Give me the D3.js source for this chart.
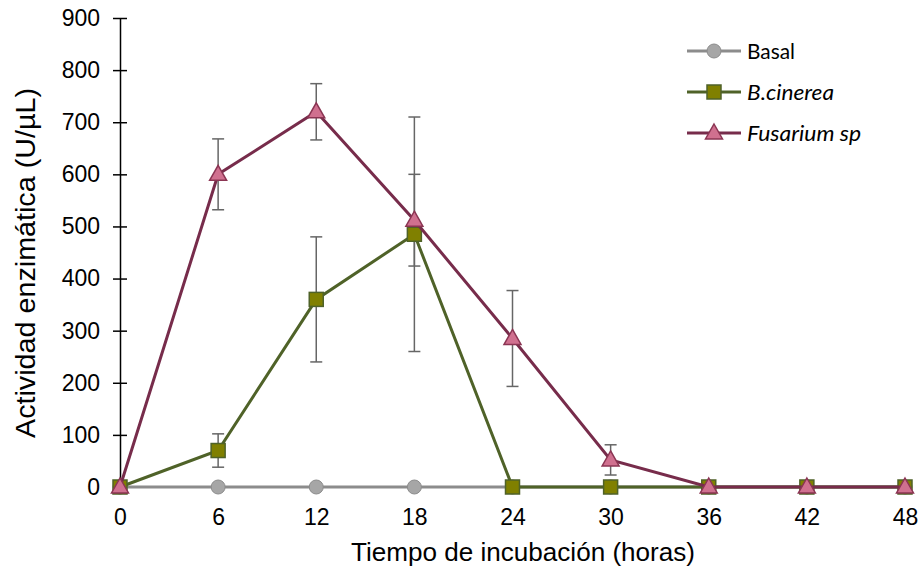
<!DOCTYPE html>
<html>
<head>
<meta charset="utf-8">
<script src="https://cdn.jsdelivr.net/npm/d3@7"></script>
<style>
  body { margin: 0; background: #fff; }
  text { font-family: "Liberation Sans", Arial, sans-serif; fill: #000; }
  .legend text { font-family: Lato, "Open Sans", sans-serif; }
</style>
</head>
<body>
<svg width="922" height="568"></svg>
<script>
// data
var hours = [0, 6, 12, 18, 24, 30, 36, 42, 48];
var basal = [0, 0, 0, 0, 0, 0, 0, 0, 0];
var cinerea = [0, 70, 360, 485, 0, 0, 0, 0, 0];
var cinereaErr = [0, 32, 120, 225, 0, 0, 0, 0, 0];
var fusarium = [0, 600, 720, 512, 285, 52, 0, 0, 0];
var fusariumErr = [0, 68, 54, 88, 92, 29, 0, 0, 0];
var yTicks = [0, 100, 200, 300, 400, 500, 600, 700, 800, 900];

var svg = d3.select("svg");

var x = d3.scaleLinear().domain([0, 48]).range([120, 905]);
var y = d3.scaleLinear().domain([0, 900]).range([487, 18]);

// y axis, ticks cross the line
var yAxis = svg.append("g").attr("transform", "translate(120,0)")
    .call(d3.axisLeft(y).tickValues(yTicks).tickSize(6).tickPadding(14).tickSizeOuter(0));
yAxis.attr("font-size", null).attr("font-family", null);
yAxis.select(".domain").attr("stroke", "#000").attr("stroke-width", 1.5);
yAxis.selectAll(".tick line").attr("x2", 7).attr("x1", -7).attr("stroke-width", 1.5);
yAxis.selectAll(".tick text").style("font-size", "23px").attr("fill", "#000");

// x tick labels only, no axis line
var xAxis = svg.append("g").attr("transform", "translate(0,487)")
    .call(d3.axisBottom(x).tickValues(hours).tickSize(0).tickPadding(0));
xAxis.attr("font-size", null).attr("font-family", null);
xAxis.select(".domain").remove();
xAxis.selectAll(".tick text").attr("dy", null).attr("y", 38)
    .style("font-size", "23px").attr("fill", "#000");

svg.append("text").attr("x", 351).attr("y", 561)
    .attr("textLength", 344).attr("lengthAdjust", "spacingAndGlyphs")
    .style("font-size", "26px").text("Tiempo de incubación (horas)");
svg.append("text").attr("transform", "translate(35,438) rotate(-90)")
    .attr("textLength", 350).attr("lengthAdjust", "spacingAndGlyphs")
    .style("font-size", "27px").text("Actividad enzimática (U/µL)");

var line = d3.line().x(function(d, i) { return x(hours[i]); }).y(function(d) { return y(d); });

var series = [
  { name: "Basal", values: basal, err: null, line: "#8c8c8c", fill: "#a6a6a6", stroke: "#8c8c8c", shape: "circle", italic: false, len: 48 },
  { name: "B.cinerea", values: cinerea, err: cinereaErr, line: "#4f6228", fill: "#808000", stroke: "#4f6228", shape: "square", italic: true, len: 87 },
  { name: "Fusarium sp", values: fusarium, err: fusariumErr, line: "#772c4b", fill: "#d0708f", stroke: "#8b3553", shape: "triangle", italic: true, len: 114 }
];

function drawMarker(g, s, cx, cy) {
  if (s.shape === "circle") {
    g.append("circle").attr("cx", cx).attr("cy", cy).attr("r", 7)
      .attr("fill", s.fill).attr("stroke", s.stroke).attr("stroke-width", 1);
  } else if (s.shape === "square") {
    g.append("rect").attr("x", cx - 7).attr("y", cy - 7).attr("width", 14).attr("height", 14)
      .attr("fill", s.fill).attr("stroke", s.stroke).attr("stroke-width", 1.5);
  } else {
    g.append("path").attr("d", "M" + cx + "," + (cy - 9) + "L" + (cx + 8.5) + "," + (cy + 6) + "L" + (cx - 8.5) + "," + (cy + 6) + "Z")
      .attr("fill", s.fill).attr("stroke", s.stroke).attr("stroke-width", 1.5);
  }
}

// error bars, behind the lines
var errG = svg.append("g");
series.forEach(function(s) {
  if (!s.err) return;
  s.values.forEach(function(v, i) {
    var e = s.err[i];
    if (!e) return;
    var cx = x(hours[i]);
    errG.append("line").attr("x1", cx).attr("x2", cx).attr("y1", y(v + e)).attr("y2", y(v - e))
      .attr("stroke", "#666").attr("stroke-width", 1.5);
    [v + e, v - e].forEach(function(t) {
      errG.append("line").attr("x1", cx - 6).attr("x2", cx + 6).attr("y1", y(t)).attr("y2", y(t))
        .attr("stroke", "#666").attr("stroke-width", 1.5);
    });
  });
});

series.forEach(function(s) {
  var g = svg.append("g");
  g.append("path").attr("d", line(s.values)).attr("fill", "none")
    .attr("stroke", s.line).attr("stroke-width", 3);
  s.values.forEach(function(v, i) { drawMarker(g, s, x(hours[i]), y(v)); });
});

// legend
var legend = svg.append("g").attr("class", "legend");
series.forEach(function(s, i) {
  var ly = 51 + i * 41;
  legend.append("line").attr("x1", 687).attr("x2", 741).attr("y1", ly).attr("y2", ly)
    .attr("stroke", s.line).attr("stroke-width", 3);
  drawMarker(legend, s, 714, ly);
  legend.append("text").attr("x", 747).attr("y", ly + 8)
    .attr("textLength", s.len).attr("lengthAdjust", "spacingAndGlyphs")
    .style("font-size", "22px")
    .attr("font-style", s.italic ? "italic" : "normal").text(s.name);
});
</script>
</body>
</html>
